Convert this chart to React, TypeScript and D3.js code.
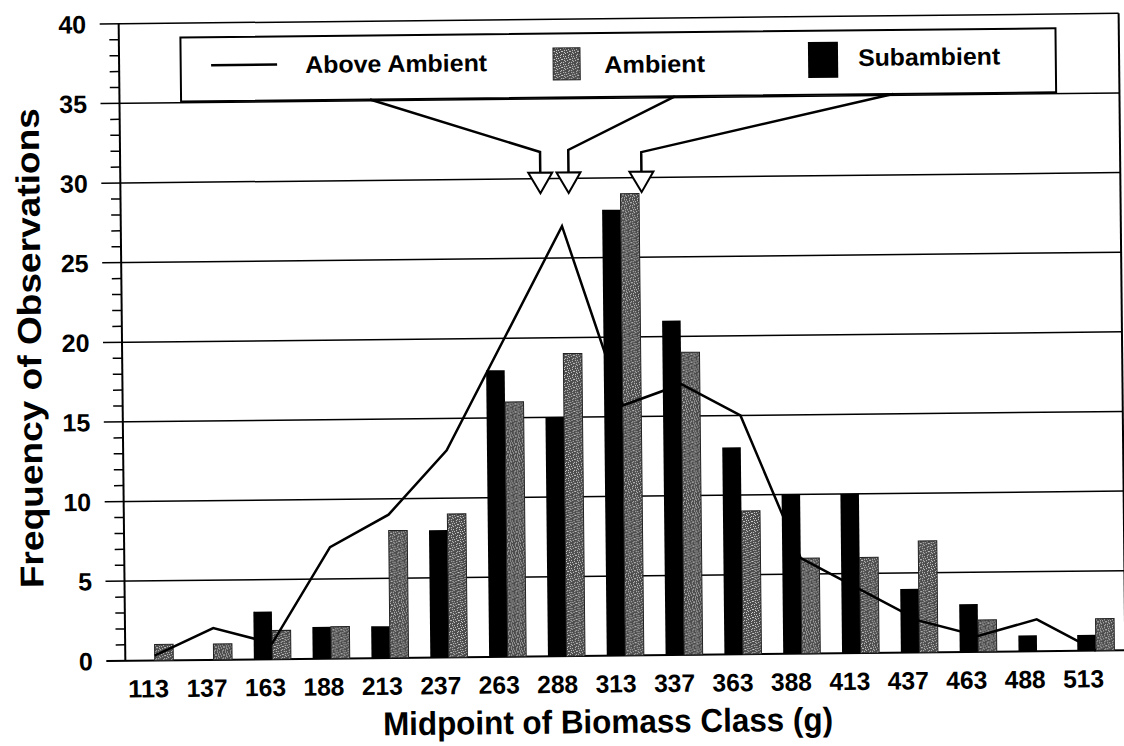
import React from 'react';
import * as d3 from 'd3';

const categories = ['113', '137', '163', '188', '213', '237', '263', '288', '313', '337', '363', '388', '413', '437', '463', '488', '513'];
const subambient = [0, 0, 3, 2, 2, 8, 18, 15, 28, 21, 13, 10, 10, 4, 3, 1, 1];
const ambient = [1, 1, 1.8, 2, 8, 9, 16, 19, 29, 19, 9, 6, 6, 7, 2, 0, 2];
const aboveAmbient = [0.3, 2, 1, 7, 9, 13, 20, 27, 15.7, 17, 15, 6, 4, 2, 1, 2, 0];
const yTicks = [0, 5, 10, 15, 20, 25, 30, 35, 40];
const meanLabels = ['Above Ambient', 'Ambient', 'Subambient'];
const meanValues = [279, 291, 322];

const W = 1124;
const H = 746;
const FONT = '"Liberation Sans", Arial, Helvetica, sans-serif';

export default function App() {
  const left = 122;
  const right = 1122;
  const x = d3.scaleBand<string>().domain(categories).range([left, right]).paddingInner(0.37).paddingOuter(0.185);
  const sub = d3.scaleBand<string>().domain(['sub', 'amb']).range([0, x.bandwidth()]);
  const y = d3.scaleLinear().domain([0, 40]).range([656.2, 19.2]);
  const labelX = d3.scalePoint<string>().domain(categories).range([145, 1080]);
  const center = (c: string) => (x(c) as number) + x.bandwidth() / 2;
  const g = d3.scaleLinear().domain([113, 513]).range([center('113'), center('513')]);

  const minorTicks = d3.range(0, 41, 1).filter((v) => v % 5 !== 0);

  const line = d3
    .line<number>()
    .x((_, i) => center(categories[i]))
    .y((v) => y(v));

  const legendTop = 33.5;
  const legendBottom = 97.5;
  const arrowStarts = [372.5, 677.5, 895.6];
  const bendYs = [151.8, 150, 153];
  const triTop = 172.5;
  const triBottom = 193;
  const triHalf = 12;

  const speckles = [
    [0, 0], [3, 1], [6, 0], [1, 2], [5, 3], [2, 4], [7, 4], [4, 6], [0, 5], [6, 6], [3, 7], [7, 2], [4, 3],
  ];

  return (
    <svg width={W} height={H} style={{ position: 'absolute', left: 0, top: 0, background: '#fff' }} fontFamily={FONT}>
      <defs>
        <pattern id="speckle" width={8} height={8} patternUnits="userSpaceOnUse">
          <rect width={8} height={8} fill="#4c4c4c" />
          {speckles.map(([sx, sy], i) => (
            <rect key={i} x={sx} y={sy} width={1} height={1} fill="#cfcfcf" />
          ))}
        </pattern>
      </defs>
      <rect x={0} y={0} width={W} height={H} fill="#fff" />
      <g transform="rotate(-0.6 560 340)">
        {/* gridlines */}
        {yTicks.map((t) => (
          <line key={'g' + t} x1={103} x2={right} y1={y(t)} y2={y(t)} stroke="#000" strokeWidth={t === 0 ? 2 : 1.5} />
        ))}
        {/* minor ticks */}
        {minorTicks.map((t) => (
          <line key={'m' + t} x1={112.5} x2={left} y1={y(t)} y2={y(t)} stroke="#000" strokeWidth={1.5} />
        ))}
        {/* y axis */}
        <line x1={left} x2={left} y1={y(40)} y2={y(0)} stroke="#000" strokeWidth={2} />
        {/* right frame */}
        <line x1={right} x2={right} y1={y(40)} y2={y(0)} stroke="#000" strokeWidth={2} />

        {/* bars */}
        {categories.map((c, i) => (
          <g key={'b' + c} transform={`translate(${x(c)},0)`}>
            {subambient[i] > 0 && (
              <rect
                x={sub('sub')}
                y={y(subambient[i])}
                width={sub.bandwidth()}
                height={y(0) - y(subambient[i])}
                fill="#000"
              />
            )}
            {ambient[i] > 0 && (
              <rect
                x={sub('amb')}
                y={y(ambient[i])}
                width={sub.bandwidth()}
                height={y(0) - y(ambient[i])}
                fill="url(#speckle)"
                stroke="#222"
                strokeWidth={1}
              />
            )}
          </g>
        ))}

        {/* above ambient line */}
        <path d={line(aboveAmbient) || ''} fill="none" stroke="#000" strokeWidth={2.5} strokeLinejoin="miter" />

        {/* y tick labels */}
        {yTicks.map((t) => (
          <text key={'yl' + t} x={89.5} y={y(t)} dy="0.36em" textAnchor="end" fontSize={25} fontWeight="bold" fill="#000">
            {t}
          </text>
        ))}

        {/* x tick labels */}
        {categories.map((c) => (
          <text key={'xl' + c} x={labelX(c)} y={693} textAnchor="middle" fontSize={25} fontWeight="bold" fill="#000" textLength={41} lengthAdjust="spacingAndGlyphs">
            {c}
          </text>
        ))}

        {/* axis titles */}
        <text x={604} y={733.5} textAnchor="middle" fontSize={33} fontWeight="bold" fill="#000" textLength={450} lengthAdjust="spacingAndGlyphs">
          Midpoint of Biomass Class (g)
        </text>
        <text
          transform={`translate(41,342.6) rotate(-90)`}
          textAnchor="middle"
          fontSize={33}
          fontWeight="bold"
          fill="#000"
          textLength={480}
          lengthAdjust="spacingAndGlyphs"
        >
          Frequency of Observations
        </text>

        {/* legend */}
        <rect x={183.6} y={legendTop} width={1058.7 - 183.6} height={legendBottom - legendTop} fill="#fff" stroke="#000" strokeWidth={2} />
        <line x1={214} x2={280} y1={61.6} y2={61.6} stroke="#000" strokeWidth={2.5} />
        <text x={308} y={70.3} fontSize={24} fontWeight="bold" fill="#000" textLength={182} lengthAdjust="spacingAndGlyphs">
          {meanLabels[0]}
        </text>
        <rect x={556} y={48} width={27} height={32} fill="url(#speckle)" stroke="#222" strokeWidth={1} />
        <text x={607} y={73.5} fontSize={24} fontWeight="bold" fill="#000" textLength={101} lengthAdjust="spacingAndGlyphs">
          {meanLabels[1]}
        </text>
        <rect x={811} y={44.6} width={30} height={36} fill="#000" />
        <text x={861} y={69.1} fontSize={24} fontWeight="bold" fill="#000" textLength={142} lengthAdjust="spacingAndGlyphs">
          {meanLabels[2]}
        </text>

        {/* mean arrows */}
        {meanValues.map((m, i) => {
          const mx = g(m);
          return (
            <g key={'a' + i}>
              <polyline
                points={`${arrowStarts[i]},${legendBottom} ${mx},${bendYs[i]} ${mx},${triTop}`}
                fill="none"
                stroke="#000"
                strokeWidth={2.5}
              />
              <polygon
                points={`${mx - triHalf},${triTop} ${mx + triHalf},${triTop} ${mx},${triBottom}`}
                fill="#fff"
                stroke="#000"
                strokeWidth={2}
              />
            </g>
          );
        })}
      </g>
    </svg>
  );
}
